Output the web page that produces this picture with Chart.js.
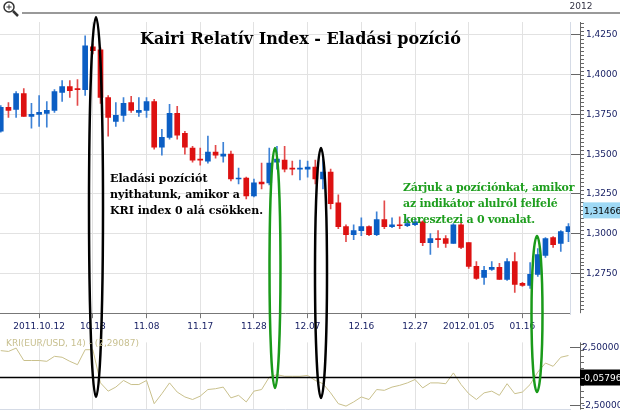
<!DOCTYPE html>
<html><head><meta charset="utf-8">
<script src="https://cdn.jsdelivr.net/npm/chart.js@4"></script>
<style>
body{margin:0;background:#fff;width:620px;height:417px;overflow:hidden;position:relative;font-family:"DejaVu Sans",sans-serif}
#top{position:absolute;left:0;top:0}
#bot{position:absolute;left:0;top:335px}
.note{position:absolute;font-family:"DejaVu Serif",serif;font-weight:bold;font-size:11px;line-height:16px;white-space:nowrap}
svg{position:absolute;left:0;top:0}
</style></head><body>
<canvas id="top" width="620" height="335"></canvas>
<canvas id="bot" width="620" height="82"></canvas>
<svg width="620" height="417">
 <line x1="22" y1="13" x2="620" y2="13" stroke="#999" stroke-width="2"/>
 <line x1="570.5" y1="22" x2="570.5" y2="315" stroke="#d5dbe6" stroke-width="1"/>
 <circle cx="9" cy="7" r="5" fill="none" stroke="#333" stroke-width="1.5"/>
 <line x1="13" y1="11" x2="18" y2="16" stroke="#333" stroke-width="2.5"/>
 <line x1="6.5" y1="7" x2="11.5" y2="7" stroke="#333" stroke-width="1"/>
 <line x1="9" y1="4.5" x2="9" y2="9.5" stroke="#333" stroke-width="1"/>
 <text x="581" y="9" font-size="9" fill="#334" text-anchor="middle" font-family="DejaVu Sans">2012</text>
 <ellipse cx="96" cy="207" rx="7" ry="190" fill="none" stroke="#000" stroke-width="2.5"/>
 <ellipse cx="321" cy="273" rx="6" ry="125" fill="none" stroke="#000" stroke-width="2.5"/>
 <ellipse cx="275" cy="268" rx="5.5" ry="120" fill="none" stroke="#1a9a1a" stroke-width="2.5"/>
 <ellipse cx="537" cy="314" rx="5.5" ry="78" fill="none" stroke="#1a9a1a" stroke-width="2.5"/>
</svg>
<div class="note" style="left:140px;top:31px;font-size:16px">Kairi Relatív Index - Eladási pozíció</div>
<div class="note" style="left:110px;top:171px;color:#000">Eladási pozíciót<br>nyithatunk, amikor a<br>KRI index 0 alá csökken.</div>
<div class="note" style="left:403px;top:180px;color:#1e9e1e;letter-spacing:-0.25px">Zárjuk a pozíciónkat, amikor<br>az indikátor alulról felfelé<br>keresztezi a 0 vonalat.</div>
<div style="position:absolute;left:6px;top:338px;font-size:9px;color:#c8c090">KRI(EUR/USD, 14) - (2,29087)</div>
<script>
// EUR/USD daily candles
var open  = [1.3644,1.3794,1.3781,1.3881,1.3738,1.3750,1.3756,1.3775,1.3888,1.3925,1.3913,1.3906,1.4175,1.4156,1.3856,1.3706,1.3744,1.3825,1.3763,1.3775,
             1.3831,1.3544,1.3606,1.3756,1.3631,1.3538,1.3469,1.3456,1.3513,1.3488,1.3500,1.3344,1.3350,1.3238,1.3325,1.3319,1.3450,1.3463,1.3413,1.3406,
             1.3406,1.3419,1.3344,1.3388,1.3194,1.3044,1.2994,1.3019,1.3044,1.2994,1.3088,1.3044,1.3056,1.3050,1.3056,1.3075,1.2944,1.2969,1.2969,1.2938,
             1.3056,1.2944,1.2794,1.2725,1.2775,1.2788,1.2713,1.2825,1.2688,1.2675,1.2744,1.2863,1.2975,1.2938,1.3013];
var close = [1.3794,1.3775,1.3881,1.3738,1.3750,1.3763,1.3775,1.3894,1.3925,1.3900,1.3906,1.4181,1.4150,1.3856,1.3731,1.3744,1.3819,1.3775,1.3775,1.3831,
             1.3544,1.3606,1.3756,1.3619,1.3544,1.3463,1.3463,1.3513,1.3494,1.3500,1.3344,1.3350,1.3238,1.3319,1.3313,1.3444,1.3469,1.3406,1.3406,1.3413,
             1.3419,1.3344,1.3388,1.3188,1.3044,1.2994,1.3019,1.3044,1.2994,1.3088,1.3044,1.3056,1.3050,1.3063,1.3075,1.2944,1.2969,1.2963,1.2938,1.3056,
             1.2913,1.2794,1.2719,1.2769,1.2788,1.2713,1.2825,1.2681,1.2675,1.2744,1.2869,1.2969,1.2931,1.3013,1.3044];
var high  = [1.3806,1.3825,1.3894,1.3913,1.3819,1.3869,1.3831,1.3906,1.3963,1.3963,1.3969,1.4244,1.4194,1.4169,1.3869,1.3825,1.3856,1.3863,1.3856,1.3856,
             1.3844,1.3656,1.3813,1.3800,1.3644,1.3550,1.3538,1.3613,1.3556,1.3575,1.3519,1.3413,1.3356,1.3344,1.3444,1.3538,1.3550,1.3550,1.3456,1.3463,
             1.3456,1.3463,1.3469,1.3406,1.3244,1.3056,1.3056,1.3100,1.3050,1.3138,1.3206,1.3100,1.3106,1.3100,1.3094,1.3081,1.3000,1.3019,1.2988,1.3063,
             1.3069,1.2944,1.2825,1.2794,1.2825,1.2813,1.2844,1.2881,1.2694,1.2819,1.2906,1.2975,1.2981,1.3019,1.3063];
var low   = [1.3638,1.3731,1.3731,1.3738,1.3663,1.3675,1.3669,1.3763,1.3831,1.3856,1.3806,1.3869,1.4131,1.3819,1.3613,1.3675,1.3706,1.3763,1.3738,1.3731,
             1.3531,1.3494,1.3594,1.3594,1.3500,1.3450,1.3431,1.3444,1.3475,1.3450,1.3331,1.3313,1.3219,1.3231,1.3281,1.3306,1.3406,1.3388,1.3369,1.3338,
             1.3356,1.3313,1.3281,1.3156,1.3031,1.2950,1.2963,1.2988,1.2988,1.2988,1.3031,1.3038,1.3031,1.3044,1.3050,1.2925,1.2869,1.2913,1.2913,1.2938,
             1.2906,1.2781,1.2713,1.2681,1.2769,1.2713,1.2706,1.2631,1.2669,1.2656,1.2731,1.2850,1.2913,1.2888,1.2950];
// Kairi Relative Index (14)
var kri   = [2.22,2.15,2.44,1.37,1.37,1.37,1.30,1.73,1.65,1.30,1.01,2.30,2.30,-0.56,-1.27,-0.92,-0.35,-0.70,-0.70,-0.35,
             -2.35,-1.49,-0.56,-1.35,-1.77,-1.99,-1.70,-1.13,-1.06,-0.92,-1.85,-1.63,-2.20,-1.27,-1.13,-0.06,0.15,0.01,0.01,0.01,
             0.08,-0.35,-0.63,-1.42,-2.35,-2.56,-2.20,-1.77,-1.99,-1.13,-1.20,-0.92,-0.77,-0.56,-0.27,-0.99,-0.56,-0.56,-0.63,0.30,
             -0.70,-1.49,-1.99,-1.42,-1.27,-1.63,-0.63,-1.49,-1.35,-0.70,0.37,1.15,0.87,1.65,1.80];
var dateTicks = [5,12,19,26,33,40,47,54,61,68];
var dateLabels = ["2011.10.12","10.18","11.08","11.17","11.28","12.07","12.16","12.27","2012.01.05","01.16"];
var priceTicks = [1.275,1.3,1.325,1.35,1.375,1.4,1.425];
var lastPrice = 1.31466;
var kriLast = -0.05796;

var RED="#dd1111", BLUE="#0b5ec4";
var body=[], wick=[], cols=[], wcols=[];
for (let i=0;i<open.length;i++){
  body.push({x:i,y:[Math.min(open[i],close[i]),Math.max(open[i],close[i])]});
  wick.push({x:i,y:[low[i],high[i]]});
  var up = close[i]>=open[i];
  cols.push(up?BLUE:RED);
  wcols.push(up?"#3d82d6":"#e34a4a");
}
function comma(v,d){return v.toFixed(d).replace(".",",");}
var xScale = {type:"linear",min:-0.1,max:74.2,offset:false,
  afterBuildTicks:function(s){s.ticks=dateTicks.map(v=>({value:v}));},
  ticks:{autoSkip:false,maxRotation:0,font:{size:9,family:"DejaVu Sans"},color:"#1a2266",padding:3,
    callback:function(v){var k=dateTicks.indexOf(v);return k<0?"":dateLabels[k];}},
  grid:{color:"#e2e2e2",offset:false,tickLength:5,tickColor:"#777"},border:{color:"#777"}};

var minorTicks = {id:"minor",afterDraw:function(c){
  var y=c.scales.y, ctx=c.ctx; ctx.save(); ctx.strokeStyle="#666"; ctx.lineWidth=1;
  ctx.beginPath(); ctx.moveTo(580.5,c.chartArea.top); ctx.lineTo(580.5,c.chartArea.bottom);
  for(var v=1.25;v<=1.435;v+=0.0025){var p=Math.round(y.getPixelForValue(v))+0.5;
    if(p<c.chartArea.top||p>c.chartArea.bottom)continue; ctx.moveTo(580,p);ctx.lineTo(584,p);}
  ctx.stroke();
  var ly=y.getPixelForValue(lastPrice);
  ctx.fillStyle="#9fd9f5"; ctx.fillRect(583,ly-8,37,16);
  ctx.fillStyle="#000"; ctx.font="9px DejaVu Sans"; ctx.textBaseline="middle";
  ctx.fillText(comma(lastPrice,5),584,ly+1); ctx.restore();}};

new Chart("top",{
  type:"bar",
  data:{datasets:[
    {data:wick,backgroundColor:wcols,barThickness:1,grouped:false,order:2},
    {data:body,backgroundColor:cols,barThickness:5,minBarLength:1,grouped:false,order:1}]},
  options:{responsive:false,animation:false,
    layout:{padding:{top:22,left:0,right:0}},
    plugins:{legend:{display:false},tooltip:{enabled:false}},
    scales:{x:xScale,
      y:{position:"right",min:1.25,max:1.4331,
        afterBuildTicks:function(s){s.ticks=priceTicks.map(v=>({value:v}));},
        afterFit:function(s){s.width=50;},
        ticks:{font:{size:9,family:"DejaVu Sans"},color:"#1a2266",padding:6,callback:v=>comma(v,4)},
        grid:{color:"#e2e2e2",tickLength:10,tickColor:"#666"},border:{display:false}}}},
  plugins:[minorTicks]});

var kriLine = {id:"kriline",afterDatasetsDraw:function(c){
  var y=c.scales.y, ctx=c.ctx, p=Math.round(y.getPixelForValue(kriLast))+0.5;
  ctx.save(); ctx.strokeStyle="#000"; ctx.lineWidth=1.5;
  ctx.beginPath(); ctx.moveTo(0,p); ctx.lineTo(583,p); ctx.stroke();
  ctx.strokeStyle="#666"; ctx.lineWidth=1; ctx.beginPath();
  ctx.moveTo(580.5,c.chartArea.top); ctx.lineTo(580.5,c.chartArea.bottom);
  for(var v=-2.75;v<=2.9;v+=0.5){var q=Math.round(y.getPixelForValue(v))+0.5; ctx.moveTo(580,q);ctx.lineTo(584,q);}
  ctx.stroke();
  ctx.fillStyle="#000"; ctx.fillRect(580,p-8,40,16);
  ctx.fillStyle="#fff"; ctx.font="9px DejaVu Sans"; ctx.textBaseline="middle";
  ctx.fillText(comma(kriLast,5),581,p+1); ctx.restore();}};

new Chart("bot",{
  type:"line",
  data:{datasets:[{data:kri.map((v,i)=>({x:i,y:v})),borderColor:"#c9c08c",borderWidth:1,pointRadius:0,tension:0}]},
  options:{responsive:false,animation:false,
    layout:{padding:{top:1}},
    plugins:{legend:{display:false},tooltip:{enabled:false}},
    scales:{x:Object.assign({},xScale,{ticks:{display:false},grid:{color:"#e2e2e2",offset:false,tickLength:0},border:{color:"#d5dbe6"}}),
      y:{position:"right",min:-2.86,max:2.93,
        afterBuildTicks:function(s){s.ticks=[{value:-2.5},{value:2.5}];},
        afterFit:function(s){s.width=50;},
        ticks:{font:{size:9,family:"DejaVu Sans"},color:"#1a2266",padding:2,callback:v=>comma(v,5)},
        grid:{drawOnChartArea:false,tickLength:10,tickColor:"#666"},border:{display:false}}}},
  plugins:[kriLine]});
</script>
</body></html>
